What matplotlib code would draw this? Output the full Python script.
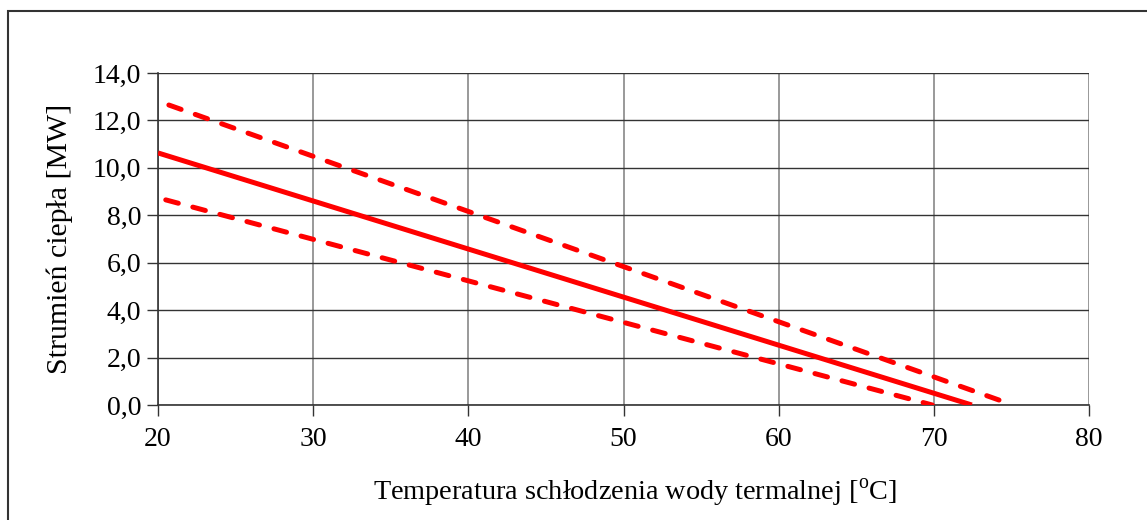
import matplotlib
matplotlib.use("Agg")
import matplotlib.pyplot as plt
from matplotlib.patches import Rectangle
from matplotlib.ticker import FuncFormatter

# Data
x_mid = [20.0, 72.45]
y_mid = [10.63, 0.0]
x_upper = [20.7, 75.1]
y_upper = [12.65, 0.0]
x_lower = [20.5, 69.9]
y_lower = [8.65, 0.0]

x_ticks = [20, 30, 40, 50, 60, 70, 80]
y_ticks = [0, 2, 4, 6, 8, 10, 12, 14]

plt.rcParams['font.family'] = ['Liberation Serif', 'DejaVu Serif']
plt.rcParams['mathtext.fontset'] = 'custom'
plt.rcParams['mathtext.rm'] = 'Liberation Serif'

fig = plt.figure(figsize=(11.47, 5.2), dpi=100)
ax = fig.add_axes([158/1147, 1-405/520, (1089-158)/1147, (405-73)/520])

# outer frame (cut by image edge)
fig.patches.append(Rectangle((8/1147, -0.05), 1.2, 1-11/520+0.05, transform=fig.transFigure,
                             fill=False, edgecolor='#333333', linewidth=1.5))

red = '#ff0000'
ax.plot(x_mid, y_mid, color=red, linewidth=3.6, solid_capstyle='butt', zorder=3)
for xs, ys in [(x_upper, y_upper), (x_lower, y_lower)]:
    ax.plot(xs, ys, color=red, linewidth=3.6, dashes=(2.6, 3.0), dash_capstyle='round', zorder=3)

ax.set_xlim(20, 80)
ax.set_ylim(0, 14)
ax.set_xticks(x_ticks)
ax.set_yticks(y_ticks)
ax.yaxis.set_major_formatter(FuncFormatter(lambda v, p: f"{v:.1f}".replace('.', ',')))

ax.grid(axis='y', color='#333333', linewidth=1.0)
ax.grid(axis='x', color='#888888', linewidth=1.2)
ax.set_axisbelow(True)
for s in ['top', 'right']:
    ax.spines[s].set_visible(False)
ax.spines['left'].set_color('#333333')
ax.spines['bottom'].set_color('#333333')
ax.spines['left'].set_linewidth(1.2)
ax.spines['bottom'].set_linewidth(1.2)
ax.tick_params(axis='both', direction='out', length=8, width=1.0, color='#333333',
               labelsize=20, pad=4)
ax.tick_params(axis='x', pad=8)

ax.set_xlabel('Temperatura schłodzenia wody termalnej [$^{\\mathrm{o}}$C]', fontsize=20.3, labelpad=18)
ax.xaxis.set_label_coords(0.512, -0.218)
ax.set_ylabel('Strumień ciepła [MW]', fontsize=21.5, labelpad=14)

fig.savefig('out.png', dpi=100)
